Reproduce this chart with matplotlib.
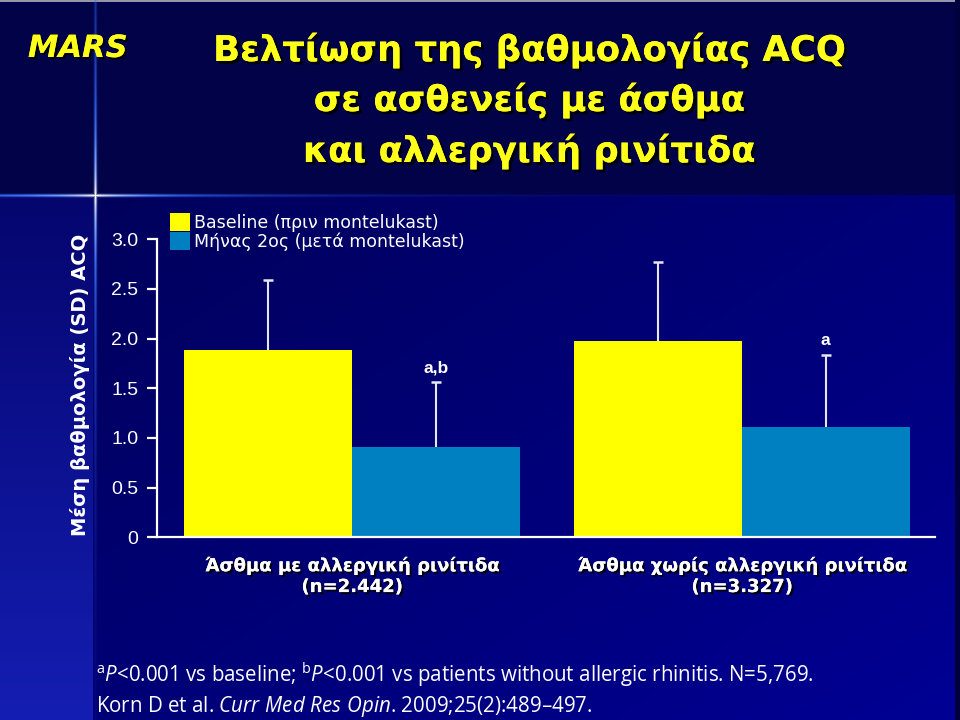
import numpy as np
import matplotlib
matplotlib.use("Agg")
import matplotlib.pyplot as plt
from matplotlib import patheffects as pe

# data
groups = ["Άσθμα με αλλεργική ρινίτιδα\n(n=2.442)",
          "Άσθμα χωρίς αλλεργική ρινίτιδα\n(n=3.327)"]
series_names = ["Baseline (πριν montelukast)", "Μήνας 2ος (μετά montelukast)"]
baseline_mean = [1.89, 1.98]
baseline_sd = [0.70, 0.79]
month2_mean = [0.91, 1.11]
month2_sd = [0.65, 0.73]
sig_labels = ["a,b", "a"]
yticks = [0, 0.5, 1.0, 1.5, 2.0, 2.5, 3.0]
ytick_labels = ["0", "0.5", "1.0", "1.5", "2.0", "2.5", "3.0"]

title_lines = ["Βελτίωση της βαθμολογίας ACQ", "σε ασθενείς με άσθμα", "και αλλεργική ρινίτιδα"]
ylabel = "Μέση βαθμολογία (SD) ACQ"

plt.rcParams['mathtext.fontset'] = 'custom'
plt.rcParams['mathtext.rm'] = 'Open Sans'
plt.rcParams['mathtext.it'] = 'Open Sans:italic'

W, H = 960, 720
fig = plt.figure(figsize=(9.6, 7.2), dpi=100)

# slide background (header band, gradient body, glowing cross)
yy, xx = np.mgrid[0:H, 0:W].astype(float)
img = np.zeros((H, W, 3))
img[:] = np.array([2, 2, 72]) / 255
t = np.clip(0.55 * xx / W + 0.45 * (yy - 195) / (H - 195), 0, 1)
body_col = (np.array([0, 0, 88])[None, None, :] * (1 - t[..., None])
            + np.array([0, 0, 148])[None, None, :] * t[..., None]) / 255
strip_t = np.clip((yy - 195) / (H - 195), 0, 1)[..., None]
strip_col = (np.array([5, 5, 110]) * (1 - strip_t) + np.array([20, 30, 178]) * strip_t) / 255
body = yy >= 195
img[body] = body_col[body]
strip = body & (xx < 93)
img[strip] = strip_col[strip]
img[:2, :] = np.array([150, 150, 170]) / 255
img[:, 955:] = np.array([0, 0, 60]) / 255

cx, cy = 95, 195
prof_x = np.exp(-((xx - cx) / 1.4) ** 2)
prof_y = np.exp(-((yy - cy) / 1.4) ** 2)
v_int = np.clip(1.3 * np.exp(-np.abs(yy - cy) / 160), 0, 1) * prof_x
h_len = np.where(xx < cx, 220, 150)
h_int = np.clip(1.3 * np.exp(-np.abs(xx - cx) / h_len), 0, 1) * prof_y
glow = np.clip(np.maximum(v_int, h_int), 0, 1)[..., None]
dist = np.sqrt((xx - cx) ** 2 + (yy - cy) ** 2)
whiteness = np.exp(-dist / 30)[..., None]
glow_col = (np.array([50, 110, 255]) / 255) * (1 - whiteness) + whiteness
img = img * (1 - glow) + glow_col * glow

bg = fig.add_axes([0, 0, 1, 1], zorder=0)
bg.imshow(img, aspect='auto', extent=(0, W, H, 0))
bg.axis('off')

# chart
ax = fig.add_axes([157 / W, 1 - 537.3 / H, (935 - 157) / W, (537.3 - 239.3) / H], zorder=1)
ax.patch.set_alpha(0)
x = np.arange(len(groups))
w = 0.43
yellow, blue, err_col = '#FFFF00', '#0080C0', '#E6E6F2'
b1 = ax.bar(x - w / 2, baseline_mean, w, color=yellow, label=series_names[0])
b2 = ax.bar(x + w / 2, month2_mean, w, color=blue, label=series_names[1])

for pos, m, s in [(x - w / 2, baseline_mean, baseline_sd), (x + w / 2, month2_mean, month2_sd)]:
    tops = np.array(m) + np.array(s)
    ax.vlines(pos, m, tops, color=err_col, lw=1.5)
    ax.plot(pos, tops, ls='none', marker='_', ms=7.5, mew=1.8, color=err_col)

for xi, m, s, lab in zip(x + w / 2, month2_mean, month2_sd, sig_labels):
    ax.text(xi, m + s + 0.1, lab, ha='center', va='baseline', color='white',
            fontsize=12.5, fontweight='bold', family='Liberation Sans')

ax.set_xlim(-0.5, 1.495)
ax.set_ylim(0, 3)
for side in ['top', 'right']:
    ax.spines[side].set_visible(False)
for side in ['left', 'bottom']:
    ax.spines[side].set_color('white')
    ax.spines[side].set_linewidth(1.6)
ax.set_yticks(yticks, ytick_labels)
ax.tick_params(axis='y', colors='white', length=7, width=1.6, pad=6.5, labelsize=14)
for lab in ax.get_yticklabels():
    lab.set_family('Liberation Sans')
ax.set_xticks(x, groups)
ax.tick_params(axis='x', length=0, pad=14, colors='white')
shadow = [pe.withSimplePatchShadow(offset=(1.5, -1.5), shadow_rgbFace='black', alpha=0.9), pe.Normal()]
for lab in ax.get_xticklabels():
    lab.set_fontsize(13)
    lab.set_fontweight('bold')
    lab.set_family('DejaVu Sans')
    lab.set_path_effects(shadow)

leg = ax.legend(handles=[b1, b2], loc='upper left', bbox_to_anchor=(170 / W, 1 - 213 / H),
                bbox_transform=fig.transFigure, frameon=False, fontsize=12.5,
                handlelength=1.15, handleheight=1.25, labelspacing=0, handletextpad=0.25,
                borderpad=0, borderaxespad=0)
for txt in leg.get_texts():
    txt.set_color('white')
    txt.set_family('DejaVu Sans')

# slide texts
for line, yb in zip(title_lines, [61, 111, 162]):
    fig.text(529 / W, 1 - yb / H, line, ha='center', va='baseline', color='#FFFF1A',
             fontsize=25.5, fontweight='bold', family='DejaVu Sans',
             path_effects=[pe.withSimplePatchShadow(offset=(2, -2), shadow_rgbFace='black', alpha=0.9), pe.Normal()])
fig.text(28 / W, 1 - 57 / H, "MARS", ha='left', va='baseline', color='#FFFF1A', fontsize=22,
         fontweight='bold', style='italic', family='DejaVu Sans',
         path_effects=[pe.withSimplePatchShadow(offset=(1.5, -1.5), shadow_rgbFace='black', alpha=0.9), pe.Normal()])
fig.text(80 / W, 1 - 385 / H, ylabel, rotation=90, ha='center', va='center', color='white',
         fontsize=14, fontweight='bold', family='DejaVu Sans')

fig.text(96 / W, 1 - 682 / H,
         r"$^{\mathrm{a}}\mathit{P}$<0.001 vs baseline; $^{\mathrm{b}}\mathit{P}$<0.001 vs patients without allergic rhinitis. N=5,769.",
         ha='left', va='baseline', color='white', fontsize=14.8, family='Open Sans')
fig.text(96 / W, 1 - 712 / H,
         r"Korn D et al. $\mathit{Curr\ Med\ Res\ Opin}$. 2009;25(2):489–497.",
         ha='left', va='baseline', color='white', fontsize=14.8, family='Open Sans')

fig.savefig("out.png", dpi=100)
